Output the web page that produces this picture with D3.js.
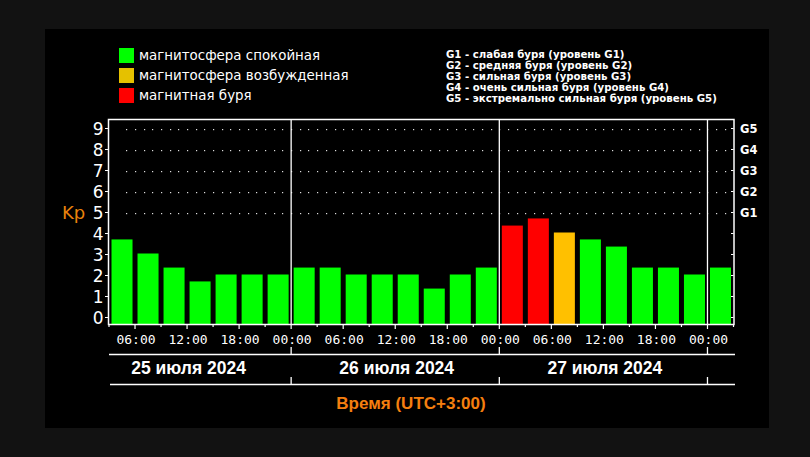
<!DOCTYPE html>
<html><head><meta charset="utf-8">
<script src="https://cdn.jsdelivr.net/npm/d3@7"></script>
<style>html,body{margin:0;padding:0;background:#121212;}svg{display:block;}</style>
</head><body>
<svg id="c" width="810" height="457"></svg>
<script>
// ---- data ----
const startTime = "2024-07-25T03:00";
const endTime = "2024-07-28T03:00";
const kpValues = [3.67, 3.0, 2.33, 1.67, 2.0, 2.0, 2.0,
                  2.33, 2.33, 2.0, 2.0, 2.0, 1.33, 2.0, 2.33,
                  4.33, 4.67, 4.0, 3.67, 3.33, 2.33, 2.33, 2.0,
                  2.33];
const dayLabels = ["25 июля 2024", "26 июля 2024", "27 июля 2024"];
const dayStarts = ["2024-07-25T00:00", "2024-07-26T00:00", "2024-07-27T00:00", "2024-07-28T00:00"];
const yTicks = [0,1,2,3,4,5,6,7,8,9];
const gLabels = ["G1","G2","G3","G4","G5"];
const gLevels = [5,6,7,8,9];
const legendItems = ["магнитосфера спокойная", "магнитосфера возбужденная", "магнитная буря"];
const legendColors = ["#00ff00", "#e5c100", "#ff0000"];
const gLegend = ["G1 - слабая буря (уровень G1)", "G2 - средняя буря (уровень G2)", "G3 - сильная буря (уровень G3)", "G4 - очень сильная буря (уровень G4)", "G5 - экстремально сильная буря (уровень G5)"];
const xAxisTitle = "Время (UTC+3:00)";
const yAxisTitle = "Kp";

const parse = d3.timeParse("%Y-%m-%dT%H:%M");
const svg = d3.select("#c");
svg.append("rect").attr("x",45).attr("y",29).attr("width",724).attr("height",399).attr("fill","#000");

const L = 109, R = 733.5, T = 119.5, B = 324.5;
const x = d3.scaleTime().domain([parse(startTime), parse(endTime)]).range([L, R]);
const y = d3.scaleLinear().domain([0, 9]).range([317.5, 128.5]);

function barColor(v){ return v >= 4.33 ? "#ff0000" : (v >= 4 ? "#ffc000" : "#00ff00"); }
const t0 = parse(startTime);
const bars = kpValues.map((v,i)=>({v, s: d3.timeHour.offset(t0, 3*i), e: d3.timeHour.offset(t0, 3*i+3)}));

// dotted grid
const dotXs = d3.timeMinute.every(90).range(d3.timeMinute.offset(t0,90), parse(endTime));
const gDots = svg.append("g");
gLevels.forEach(lv=>{
  dotXs.forEach(t=>{
    gDots.append("rect").attr("x", Math.round(x(t))).attr("y", Math.round(y(lv))).attr("width",1.2).attr("height",1.2).attr("fill","#ddd");
  });
});

// bars
svg.append("g").selectAll("rect").data(bars).join("rect")
  .attr("x", d=>x(d.s)+2.5).attr("width", d=>x(d.e)-x(d.s)-5)
  .attr("y", d=>y(d.v)-1).attr("height", d=>B - y(d.v)+1)
  .attr("fill", d=>barColor(d.v));

// frame
const white = "#fff";
svg.append("rect").attr("x",L-0.5).attr("y",T).attr("width",R-L+1).attr("height",B-T).attr("fill","none").attr("stroke",white).attr("stroke-width",1.5);

// day lines
dayStarts.forEach(ds=>{
  const xx = x(parse(ds));
  if (xx > L+1 && xx < R-1) {
    svg.append("line").attr("x1",xx).attr("x2",xx).attr("y1",T).attr("y2",B).attr("stroke",white).attr("stroke-width",1.3);
    svg.append("line").attr("x1",xx).attr("x2",xx).attr("y1",347).attr("y2",354).attr("stroke",white).attr("stroke-width",1.3);
    svg.append("line").attr("x1",xx).attr("x2",xx).attr("y1",377).attr("y2",384).attr("stroke",white).attr("stroke-width",1.3);
  }
});

// bottom ticks
const ticks3 = d3.timeHour.every(3).range(t0, d3.timeHour.offset(parse(endTime),1));
ticks3.forEach(t=>{
  const big = t.getHours() % 6 === 0;
  svg.append("line").attr("x1",x(t)).attr("x2",x(t)).attr("y1",B).attr("y2",B+(big?4.5:2.5)).attr("stroke",white).attr("stroke-width",1.2);
});
// time labels
const ticks6 = d3.timeHour.every(6).range(t0, parse(endTime));
svg.append("g").selectAll("text").data(ticks6).join("text")
  .attr("x", d=>x(d)+1).attr("y", 344).attr("text-anchor","middle")
  .attr("font-family","DejaVu Sans Mono").attr("font-size",13).attr("fill","#fff")
  .text(d=>d3.timeFormat("%H:%M")(d));

// horizontal lines
svg.append("line").attr("x1",109).attr("x2",735).attr("y1",354.5).attr("y2",354.5).attr("stroke",white).attr("stroke-width",1.3);
svg.append("line").attr("x1",110).attr("x2",735).attr("y1",384.5).attr("y2",384.5).attr("stroke",white).attr("stroke-width",1.3);

// day labels
dayLabels.forEach((lab,i)=>{
  const cx = (x(parse(dayStarts[i])) + x(parse(dayStarts[i+1])))/2 + 1.5;
  svg.append("text").attr("x",cx).attr("y",374).attr("text-anchor","middle")
    .attr("font-family","Liberation Sans, Arial").attr("font-weight","bold").attr("font-size",17.5).attr("fill","#fff").text(lab);
});
svg.append("text").attr("x",411).attr("y",409).attr("text-anchor","middle")
  .attr("font-family","Liberation Sans, Arial").attr("font-weight","bold").attr("font-size",17).attr("fill","#f57f0f").text(xAxisTitle);

// left y ticks & labels
yTicks.forEach(v=>{
  svg.append("line").attr("x1",L-4).attr("x2",L).attr("y1",y(v)).attr("y2",y(v)).attr("stroke",white).attr("stroke-width",1);
  svg.append("line").attr("x1",R-2.5).attr("x2",R).attr("y1",y(v)).attr("y2",y(v)).attr("stroke",white).attr("stroke-width",1);
  svg.append("text").attr("x",103.5).attr("y",y(v)+6).attr("text-anchor","end")
    .attr("font-family","DejaVu Sans").attr("font-size",17).attr("fill","#fff").text(v);
});
svg.append("text").attr("x",62).attr("y",219).attr("font-family","DejaVu Sans").attr("font-size",18).attr("fill","#e8820c").text(yAxisTitle);

// right G labels
gLabels.forEach((g,i)=>{
  svg.append("text").attr("x",740).attr("y",y(gLevels[i])+4.5)
    .attr("font-family","DejaVu Sans").attr("font-weight","bold").attr("font-size",11.5).attr("fill","#fff").text(g);
});

// legend
legendItems.forEach((lab,i)=>{
  svg.append("rect").attr("x",119).attr("y",48+20*i).attr("width",15).attr("height",15).attr("fill",legendColors[i]);
  svg.append("text").attr("x",139).attr("y",60+20*i).attr("font-family","DejaVu Sans").attr("font-size",13.4).attr("fill","#fff").text(lab);
});
gLegend.forEach((lab,i)=>{
  svg.append("text").attr("x",446).attr("y",58+11*i).attr("font-family","DejaVu Sans").attr("font-weight","bold").attr("font-size",10.2).attr("fill","#fff").text(lab);
});
</script>
</body></html>
